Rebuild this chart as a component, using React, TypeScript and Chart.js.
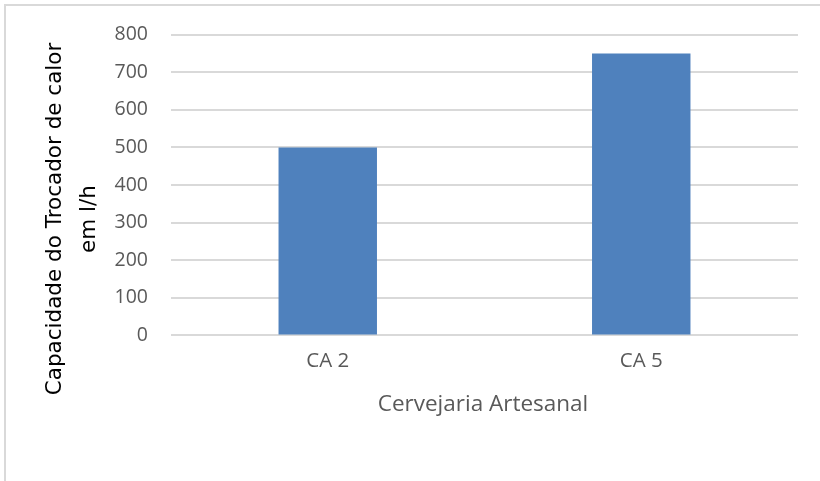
import React, { useEffect, useRef } from "react";
import { Chart, registerables } from "chart.js";

Chart.register(...registerables);

const categories: string[] = ["CA 2", "CA 5"];
const capacidade: number[] = [500, 750];
const yTicks: number[] = [0, 100, 200, 300, 400, 500, 600, 700, 800];
const yTitleLines: string[] = ["Capacidade do Trocador de calor", "em l/h"];
const xTitle = "Cervejaria Artesanal";

const GRID = "#d9d9d9";
const TEXT = "#595959";
const BAR = "#4f81bd";
const LABEL_FONT = "'Open Sans', 'DejaVu Sans', sans-serif";

// Draws the axis titles at fixed spots around the plot.
const titlesPlugin = {
  id: "axisTitles",
  afterDraw(chart: Chart) {
    const ctx = chart.ctx;
    ctx.save();
    // vertical title, two centred lines
    ctx.translate(72, 219);
    ctx.rotate(-Math.PI / 2);
    ctx.fillStyle = "#000000";
    ctx.font = "21.5px 'DejaVu Sans', sans-serif";
    ctx.textAlign = "center";
    ctx.textBaseline = "middle";
    ctx.fillText(yTitleLines[0], 0, -17);
    ctx.fillText(yTitleLines[1], 0, 17);
    ctx.restore();

    ctx.save();
    ctx.fillStyle = TEXT;
    ctx.font = `22.5px ${LABEL_FONT}`;
    ctx.textAlign = "center";
    ctx.textBaseline = "middle";
    ctx.fillText(xTitle, 483, 405);
    ctx.restore();
  },
};

export default function App() {
  const canvasRef = useRef<HTMLCanvasElement | null>(null);

  useEffect(() => {
    if (!canvasRef.current) return;
    const chart = new Chart(canvasRef.current, {
      type: "bar",
      data: {
        labels: categories,
        datasets: [
          {
            data: capacidade,
            backgroundColor: BAR,
            borderWidth: 0,
            categoryPercentage: 1,
            barPercentage: 0.314,
          },
        ],
      },
      options: {
        animation: false,
        responsive: false,
        maintainAspectRatio: false,
        layout: { padding: { top: 22, right: 22, bottom: 95, left: 0 } },
        plugins: {
          legend: { display: false },
          tooltip: { enabled: false },
          title: { display: false },
        },
        scales: {
          x: {
            grid: { display: false, drawTicks: false },
            border: { display: false },
            ticks: {
              color: TEXT,
              font: { family: LABEL_FONT, size: 20.5 },
              padding: 13,
            },
          },
          y: {
            min: 0,
            max: 800,
            afterFit: (scale: any) => {
              scale.width = 171;
            },
            afterBuildTicks: (scale: any) => {
              scale.ticks = yTicks.map((v) => ({ value: v }));
            },
            grid: { color: GRID, lineWidth: 2, drawTicks: false },
            border: { display: false },
            ticks: {
              color: TEXT,
              font: { family: LABEL_FONT, size: 19.5 },
              padding: 23,
            },
          },
        },
      },
      plugins: [titlesPlugin],
    });
    return () => chart.destroy();
  }, []);

  return (
    <div
      style={{
        position: "fixed",
        left: 0,
        top: 0,
        width: 820,
        height: 481,
        background: "#ffffff",
      }}
    >
      <div
        style={{
          position: "absolute",
          left: 4,
          top: 4,
          right: 0,
          bottom: 0,
          borderTop: `2px solid ${GRID}`,
          borderLeft: `2px solid ${GRID}`,
        }}
      />
      <canvas
        ref={canvasRef}
        width={820}
        height={481}
        style={{ position: "absolute", left: 0, top: 0, width: 820, height: 481 }}
      />
    </div>
  );
}
